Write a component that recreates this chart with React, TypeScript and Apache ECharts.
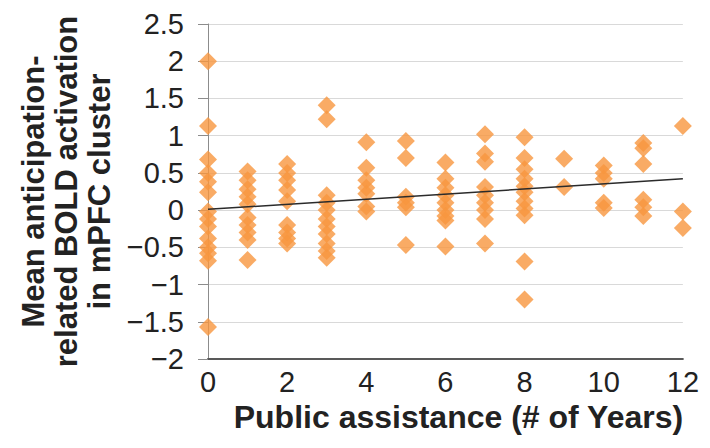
import React, { useEffect, useRef } from "react";
import * as echarts from "echarts";

// Years of public assistance (x positions of each column of points)
const years = [0, 1, 2, 3, 4, 5, 6, 7, 8, 9, 10, 11, 12];

// Mean anticipation-related BOLD activation per participant, grouped by years
const activationYear0 = [2.0, 1.13, 0.68, 0.5, 0.38, 0.24, -0.02, -0.12, -0.22, -0.38, -0.5, -0.58, -0.68, -1.57];
const activationYear1 = [0.52, 0.4, 0.28, 0.18, 0.08, -0.1, -0.2, -0.3, -0.4, -0.67];
const activationYear2 = [0.62, 0.5, 0.4, 0.27, 0.12, -0.2, -0.3, -0.38, -0.45];
const activationYear3 = [1.41, 1.22, 0.2, 0.1, 0.0, -0.12, -0.22, -0.32, -0.45, -0.55, -0.64];
const activationYear4 = [0.91, 0.57, 0.4, 0.3, 0.22, 0.05, -0.02];
const activationYear5 = [0.93, 0.7, 0.18, 0.1, 0.04, -0.47];
const activationYear6 = [0.64, 0.42, 0.3, 0.2, 0.1, 0.0, -0.08, -0.14, -0.49];
const activationYear7 = [1.02, 0.76, 0.65, 0.31, 0.2, 0.1, 0.0, -0.12, -0.45];
const activationYear8 = [0.98, 0.7, 0.55, 0.42, 0.32, 0.24, 0.12, 0.02, -0.07, -0.69, -1.2];
const activationYear9 = [0.69, 0.31];
const activationYear10 = [0.6, 0.5, 0.42, 0.1, 0.03];
const activationYear11 = [0.9, 0.83, 0.62, 0.14, 0.04, -0.08];
const activationYear12 = [1.13, -0.02, -0.24];

const activationByYear = [
  activationYear0, activationYear1, activationYear2, activationYear3,
  activationYear4, activationYear5, activationYear6, activationYear7,
  activationYear8, activationYear9, activationYear10, activationYear11,
  activationYear12,
];

// Linear trend line end points
const trendX = [0, 12];
const trendY = [0.01, 0.42];

// Axis tick values
const yTicks = { min: -2, max: 2.5, step: 0.5 };
const xTicks = { min: 0, max: 12, step: 2 };

const FONT = "'Liberation Sans', Arial, sans-serif";

export default function App() {
  const ref = useRef<HTMLDivElement>(null);

  useEffect(() => {
    if (!ref.current) return;
    const chart = echarts.init(ref.current, null, { renderer: "svg" });

    const points: number[][] = [];
    activationByYear.forEach((vals, i) => {
      vals.forEach((v) => points.push([years[i], v]));
    });

    chart.setOption({
      animation: false,
      backgroundColor: "#ffffff",
      grid: { left: 200, right: 10, top: 16, bottom: 81 },
      xAxis: {
        type: "value",
        min: xTicks.min,
        max: xTicks.max,
        interval: xTicks.step,
        name: "Public assistance (# of Years)",
        nameLocation: "middle",
        nameGap: 31,
        nameTextStyle: {
          fontFamily: FONT,
          fontSize: 32,
          fontWeight: "bold",
          color: "#222222",
          padding: [0, 0, 0, 26],
        },
        axisLine: { show: true, onZero: false, lineStyle: { color: "#595959", width: 2 } },
        axisTick: { show: false },
        splitLine: { show: false },
        axisLabel: {
          fontFamily: FONT,
          fontSize: 29,
          color: "#222222",
          margin: 8,
        },
      },
      yAxis: {
        type: "value",
        min: yTicks.min,
        max: yTicks.max,
        interval: yTicks.step,
        name: "Mean anticipation-\nrelated BOLD activation\nin mPFC cluster",
        nameLocation: "middle",
        nameRotate: 90,
        nameGap: 92,
        nameTextStyle: {
          fontFamily: FONT,
          fontSize: 31,
          fontWeight: "bold",
          color: "#222222",
          lineHeight: 33,
          align: "center",
        },
        axisLine: { show: true, onZero: false, lineStyle: { color: "#8c8c8c", width: 1 } },
        axisTick: { show: true, inside: false, length: 10, lineStyle: { color: "#8c8c8c" } },
        splitLine: { show: true, lineStyle: { color: "#d9d9d9", width: 1 } },
        axisLabel: {
          fontFamily: FONT,
          fontSize: 29,
          color: "#222222",
          margin: 24,
          formatter: (v: number) => (v < 0 ? "\u2212" + String(-v) : String(v)),
        },
      },
      series: [
        {
          type: "scatter",
          data: points,
          symbol: "diamond",
          symbolSize: 18,
          itemStyle: { color: "#f7963f" },
          z: 2,
        },
        {
          type: "line",
          data: trendX.map((x, i) => [x, trendY[i]]),
          symbol: "none",
          lineStyle: { color: "#2b2b2b", width: 1.5 },
          z: 3,
        },
      ],
    });

    return () => chart.dispose();
  }, []);

  return <div ref={ref} style={{ width: 694, height: 432 }} />;
}
